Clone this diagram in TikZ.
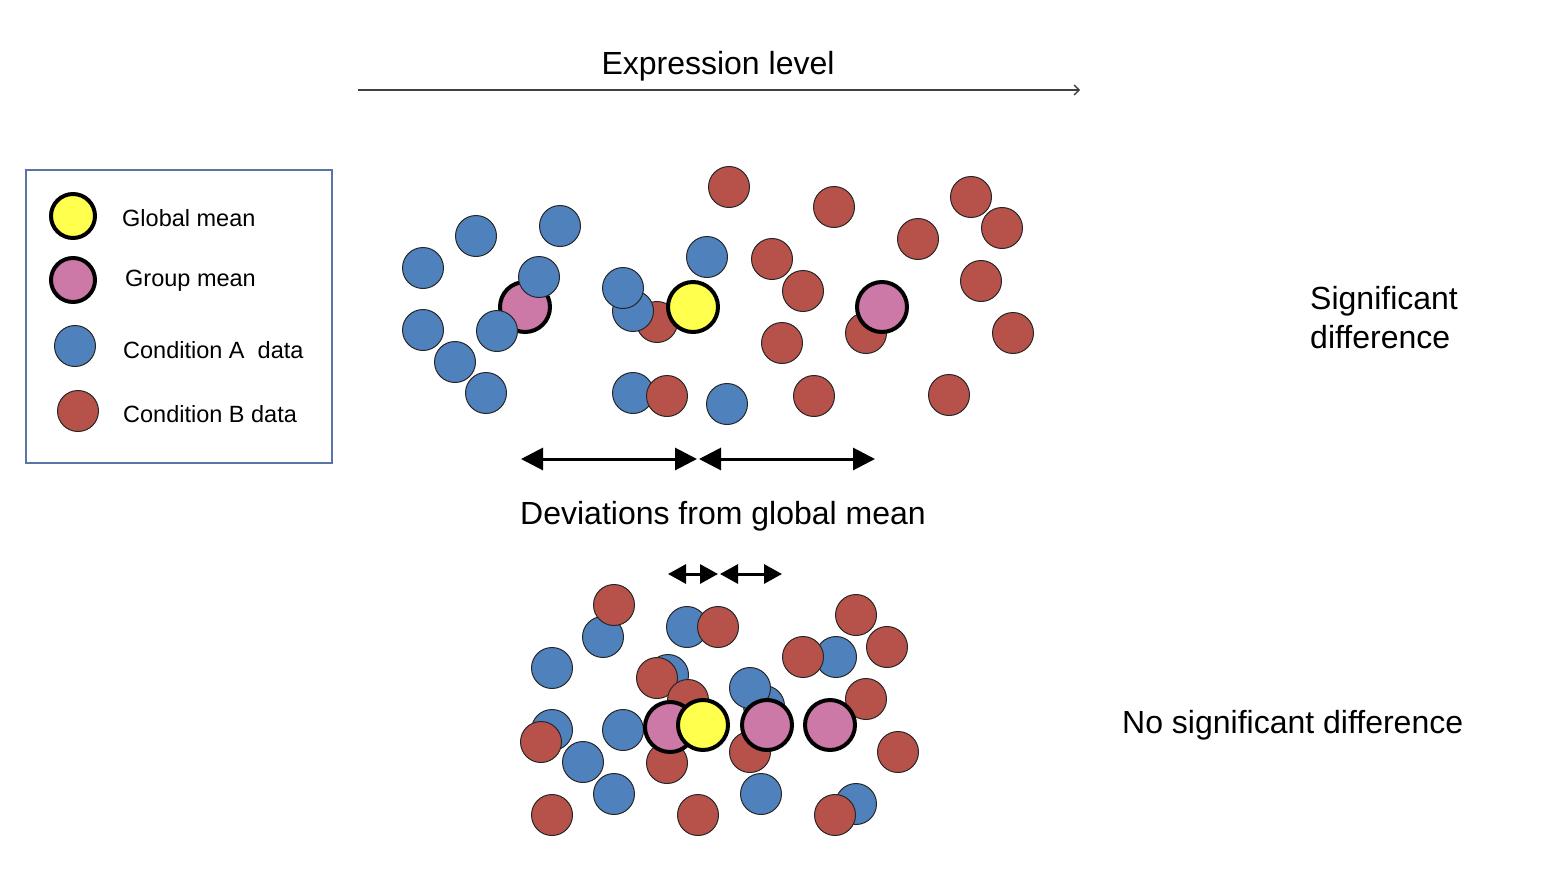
\documentclass[tikz,border=0pt]{standalone}
\usepackage{fontspec}
\setmainfont{Liberation Sans}
\usetikzlibrary{arrows.meta}
\definecolor{cA}{RGB}{79,129,189}
\definecolor{cB}{RGB}{183,82,75}
\definecolor{cP}{RGB}{204,121,167}
\definecolor{cY}{RGB}{255,255,77}
\definecolor{legframe}{RGB}{90,115,168}
\begin{document}
\begin{tikzpicture}[x=1pt,y=-1pt,
  dot/.style={circle,draw=black!85,line width=1pt,minimum size=41pt,inner sep=0pt},
  ca/.style={dot,fill=cA},
  cb/.style={dot,fill=cB},
  mean/.style={circle,draw=black,line width=4pt,minimum size=50pt,inner sep=0pt},
  gm/.style={mean,fill=cY},
  grp/.style={mean,fill=cP},
  lbl/.style={font=\fontsize{32}{39}\selectfont,inner sep=0pt},
  leg/.style={font=\fontsize{23.5}{28}\selectfont,inner sep=0pt,anchor=west},
  dev/.style={line width=3pt,{Triangle[length=22pt,width=22pt]}-{Triangle[length=22pt,width=22pt]}},
  devs/.style={line width=3pt,{Triangle[length=18pt,width=19pt]}-{Triangle[length=18pt,width=19pt]}},
  axis/.style={line width=1.3pt,draw=black!75,-{Straight Barb[length=5pt,width=10pt]}}
]
\useasboundingbox (0,0) rectangle (1546,872);

% axis
\coordinate (ax0) at (358,90);
\coordinate (ax1) at (1080,90);
\draw[axis] (ax0) -- (ax1);
\node[lbl] (axlbl) at (718,66) {Expression level};

% legend
\node[draw=legframe,line width=2pt,minimum width=306pt,minimum height=293pt,inner sep=0pt,anchor=north west] (legend) at (25,169) {};
\node[gm,minimum size=44pt] (lgm) at (73,216) {};
\node[leg] (lgmt) at (122,218) {Global mean};
\node[grp,minimum size=44pt] (lgp) at (73,280) {};
\node[leg] (lgpt) at (125,281) {Group mean};
\node[ca] (lca) at (75,346) {};
\node[leg] (lcat) at (123,350) {Condition A~ data};
\node[cb] (lcb) at (78,411) {};
\node[leg] (lcbt) at (123,414) {Condition B data};

% ---------- top cluster ----------
\node[ca] (t1) at (423,268) {};
\node[ca] (t2) at (476,236) {};
\node[ca] (t3) at (560,226) {};
\node[grp] (tg1) at (525,307) {};
\node[ca] (t4) at (539,277) {};
\node[ca] (t5) at (423,330) {};
\node[ca] (t6) at (497,331) {};
\node[ca] (t7) at (455,362) {};
\node[ca] (t8) at (486,393) {};
\node[cb] (t9) at (657,322) {};
\node[ca] (t10) at (633,311) {};
\node[ca] (t11) at (623,288) {};
\node[ca] (t12) at (707,257) {};
\node[gm] (tgm) at (693,307) {};
\node[ca] (t13) at (633,393) {};
\node[cb] (t14) at (667,396) {};
\node[ca] (t15) at (727,404) {};
\node[cb] (t16) at (729,187) {};
\node[cb] (t17) at (834,207) {};
\node[cb] (t18) at (971,197) {};
\node[cb] (t19) at (1002,228) {};
\node[cb] (t20) at (918,239) {};
\node[cb] (t21) at (772,259) {};
\node[cb] (t22) at (803,291) {};
\node[cb] (t23) at (981,281) {};
\node[cb] (t24) at (782,343) {};
\node[cb] (t25) at (866,333) {};
\node[grp] (tg2) at (882,307) {};
\node[cb] (t26) at (1013,333) {};
\node[cb] (t27) at (814,396) {};
\node[cb] (t28) at (949,395) {};

% deviation arrows (top)
\coordinate (d1a) at (521,459);
\coordinate (d1b) at (697,459);
\coordinate (d2a) at (699,459);
\coordinate (d2b) at (875,459);
\draw[dev] (d1a) -- (d1b);
\draw[dev] (d2a) -- (d2b);
\node[lbl] (devlbl) at (723,516) {Deviations from global mean};

% deviation arrows (bottom)
\coordinate (e1a) at (668,574);
\coordinate (e1b) at (718,574);
\coordinate (e2a) at (720,574);
\coordinate (e2b) at (782,574);
\draw[devs] (e1a) -- (e1b);
\draw[devs] (e2a) -- (e2b);

% ---------- bottom cluster ----------
\node[ca] (b1) at (603,637) {};
\node[cb] (b2) at (614,605) {};
\node[ca] (b3) at (552,668) {};
\node[ca] (b4) at (687,627) {};
\node[cb] (b5) at (718,627) {};
\node[ca] (b6) at (668,675) {};
\node[cb] (b7) at (657,678) {};
\node[ca] (b8) at (552,730) {};
\node[cb] (b9) at (541,742) {};
\node[ca] (b10) at (583,762) {};
\node[ca] (b11) at (614,794) {};
\node[cb] (b12) at (552,815) {};
\node[ca] (b13) at (623,730) {};
\node[cb] (b14) at (688,700) {};
\node[cb] (b15) at (667,763) {};
\node[ca] (b17) at (764,706) {};
\node[ca] (b16) at (750,688) {};
\node[cb] (b18) at (750,752) {};
\node[ca] (b19) at (836,657) {};
\node[cb] (b20) at (803,657) {};
\node[cb] (b21) at (856,615) {};
\node[cb] (b22) at (887,647) {};
\node[cb] (b23) at (866,699) {};
\node[cb] (b24) at (898,752) {};
\node[ca] (b25) at (761,794) {};
\node[cb] (b26) at (698,815) {};
\node[ca] (b27) at (856,804) {};
\node[cb] (b28) at (835,815) {};
\node[grp] (bg1) at (670,727) {};
\node[gm] (bgm) at (703,725) {};
\node[grp] (bg2) at (767,725) {};
\node[grp] (bg3) at (830,725) {};

% side labels
\node[lbl,anchor=west,align=left] (sig) at (1310,318) {Significant\\difference};
\node[lbl,anchor=west] (nosig) at (1122,725) {No significant difference};
\end{tikzpicture}
\end{document}
